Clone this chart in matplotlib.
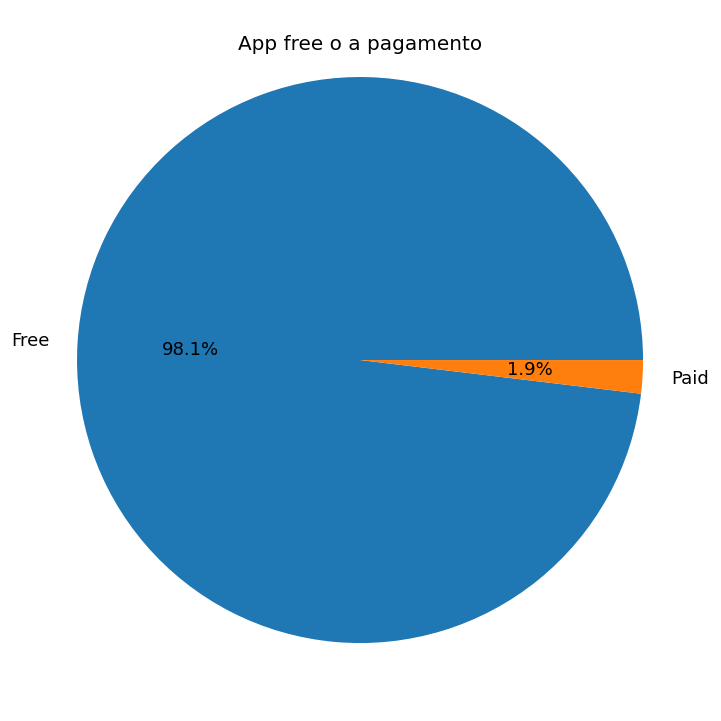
import matplotlib
matplotlib.use('Agg')
import matplotlib.pyplot as plt

# dati
labels = ['Free', 'Paid']
percentuali = [98.1, 1.9]
colori = ['#1f77b4', '#ff7f0e']

plt.rcParams['font.size'] = 13

fig = plt.figure(figsize=(7.21, 7.21), dpi=100)
ax = fig.add_axes([0.0087, 0.0100, 0.9813, 0.9813])

ax.pie(percentuali, labels=labels, colors=colori, autopct='%1.1f%%')
ax.set_xlim(-1.25, 1.25)
ax.set_ylim(-1.25, 1.25)

fig.text(0.5, 1 - 45 / 721, 'App free o a pagamento', ha='center', va='center', fontsize=14.4)

fig.savefig('out.png', dpi=100)
